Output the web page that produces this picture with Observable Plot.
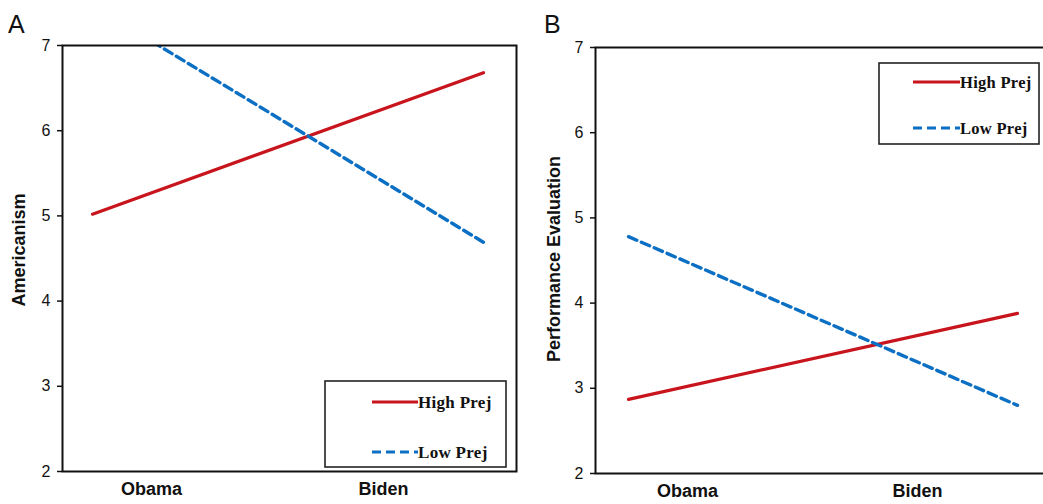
<!DOCTYPE html>
<html>
<head>
<meta charset="utf-8">
<script src="https://cdn.jsdelivr.net/npm/d3@7"></script>
<script src="https://cdn.jsdelivr.net/npm/@observablehq/plot@0.6"></script>
<style>
  html, body { margin: 0; padding: 0; background: #fff; }
  #wrap { position: relative; width: 1043px; height: 504px; overflow: hidden; background: #fff; }
  .pl { position: absolute; top: 0; }
  .letter { position: absolute; font-family: 'Liberation Sans', Arial, sans-serif; font-size: 25px; color: #111; line-height: 1; }
  .ytitle { position: absolute; font-family: 'Liberation Sans', Arial, sans-serif; font-weight: bold; font-size: 18px; color: #111; white-space: nowrap; transform: translate(-50%, -50%) rotate(-90deg); line-height: 1; }
  .legend { position: absolute; }
</style>
</head>
<body>
<div id="wrap"></div>
<script>
// ---- data ----
const candidates = ["Obama", "Biden"];
const seriesNames = ["High Prej", "Low Prej"];
const americanismHigh = [5.02, 6.68];
const americanismLow = [7.47, 4.69];
const performanceHigh = [2.87, 3.88];
const performanceLow = [4.78, 2.80];
const yTicks = [2, 3, 4, 5, 6, 7];
const panelLetters = ["A", "B"];
const yTitles = ["Americanism", "Performance Evaluation"];

const RED = "#c8141c";
const BLUE = "#0b6fc4";
const DASH = "9,5";
const labelShift = [59, -100];

const wrap = document.getElementById("wrap");

function rows(vals, s) {
  return candidates.map((c, i) => ({candidate: c, value: vals[i], series: s}));
}

function panel({high, low, left, width, marginLeft, marginRight, marginTop, marginBottom, xRange}) {
  const chart = Plot.plot({
    width, height: 504,
    marginLeft, marginRight, marginTop, marginBottom,
    style: {fontFamily: "'Liberation Sans', Arial, sans-serif", background: "transparent", color: "#111"},
    x: {type: "point", domain: candidates, range: xRange, padding: 0, axis: null},
    y: {domain: [2, 7]},
    marks: [
      Plot.axisY({ticks: yTicks, tickSize: 5, tickPadding: 7, fontSize: 16, label: null, tickFormat: d => String(d), strokeWidth: 1.5}),
      Plot.line(rows(high, seriesNames[0]), {x: "candidate", y: "value", stroke: RED, strokeWidth: 3.2, clip: true}),
      Plot.line(rows(low, seriesNames[1]), {x: "candidate", y: "value", stroke: BLUE, strokeWidth: 3.4, strokeDasharray: DASH, clip: true}),
      Plot.frame({stroke: "#111", strokeWidth: 2}),
      ...candidates.map((c, i) => Plot.text([c], {x: d => d, frameAnchor: "bottom", dy: 23, dx: labelShift[i], fontWeight: "bold", fontSize: 18, fill: "#111"}))
    ]
  });
  chart.classList.add("pl");
  chart.style.left = left + "px";
  wrap.appendChild(chart);
}

panel({high: americanismHigh, low: americanismLow, left: 0, width: 530,
  marginLeft: 62, marginRight: 14, marginTop: 45, marginBottom: 33, xRange: [92, 483]});
panel({high: performanceHigh, low: performanceLow, left: 525, width: 540,
  marginLeft: 70, marginRight: 10, marginTop: 47, marginBottom: 31, xRange: [103, 492]});

// panel letters
[[8, 12], [544, 12]].forEach(([x, y], i) => {
  const d = document.createElement("div");
  d.className = "letter"; d.textContent = panelLetters[i];
  d.style.left = x + "px"; d.style.top = y + "px";
  wrap.appendChild(d);
});

// y titles
[[19, 250], [554, 259]].forEach(([x, y], i) => {
  const d = document.createElement("div");
  d.className = "ytitle"; d.textContent = yTitles[i];
  d.style.left = x + "px"; d.style.top = y + "px";
  wrap.appendChild(d);
});

// legends
function legend(left, top, w, h, lineX, textX, rowY, fs) {
  const ns = "http://www.w3.org/2000/svg";
  const svg = document.createElementNS(ns, "svg");
  svg.setAttribute("width", w); svg.setAttribute("height", h);
  svg.setAttribute("class", "legend");
  svg.style.left = left + "px"; svg.style.top = top + "px";
  const rect = document.createElementNS(ns, "rect");
  rect.setAttribute("x", 1); rect.setAttribute("y", 1);
  rect.setAttribute("width", w - 2); rect.setAttribute("height", h - 2);
  rect.setAttribute("fill", "#fff"); rect.setAttribute("stroke", "#222"); rect.setAttribute("stroke-width", 1.6);
  svg.appendChild(rect);
  seriesNames.forEach((name, i) => {
    const ln = document.createElementNS(ns, "line");
    ln.setAttribute("x1", lineX[0]); ln.setAttribute("x2", lineX[1]);
    ln.setAttribute("y1", rowY[i]); ln.setAttribute("y2", rowY[i]);
    ln.setAttribute("stroke", i === 0 ? RED : BLUE);
    ln.setAttribute("stroke-width", 3.2);
    if (i === 1) ln.setAttribute("stroke-dasharray", "9,5");
    svg.appendChild(ln);
    const t = document.createElementNS(ns, "text");
    t.setAttribute("x", textX); t.setAttribute("y", rowY[i]);
    t.setAttribute("dy", "0.35em");
    t.setAttribute("font-family", "'Liberation Serif', 'Times New Roman', serif");
    t.setAttribute("font-weight", "bold");
    t.setAttribute("font-size", fs);
    t.setAttribute("letter-spacing", "0.3");
    t.setAttribute("fill", "#111");
    t.textContent = name;
    svg.appendChild(t);
  });
  wrap.appendChild(svg);
}
legend(324, 380, 183, 88, [48, 94], 94, [22, 72], 17);
legend(878, 62, 162, 83, [35, 82], 82, [20, 66], 16.5);
</script>
</body>
</html>
